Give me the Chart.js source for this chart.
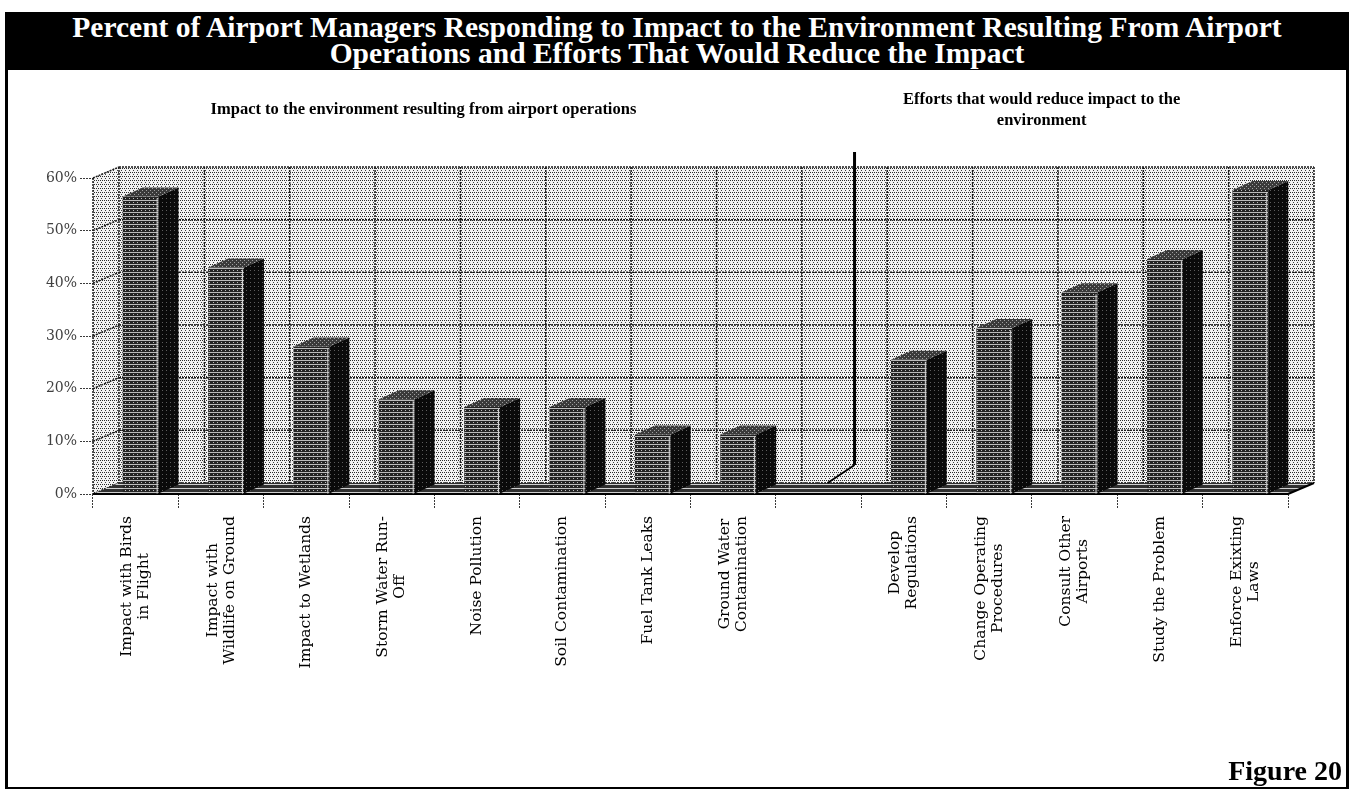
<!DOCTYPE html>
<html>
<head>
<meta charset="utf-8">
<title>Figure 20</title>
<script src="https://cdn.jsdelivr.net/npm/chart.js@4.4.0/dist/chart.umd.min.js"></script>
<style>
  body { margin: 0; background: #fff; width: 1353px; height: 791px; position: relative; overflow: hidden; }
  #frame { position: absolute; left: 5px; top: 12px; width: 1338px; height: 775px;
           border-left: 3px solid #000; border-right: 3px solid #000; border-bottom: 2px solid #000; }
  #title { position: absolute; left: 5px; top: 12px; width: 1344px; height: 58px; box-sizing: border-box;
           padding-top: 2px; background: #000; color: #fff; text-align: center;
           font: bold 29.5px "Liberation Serif", "Times New Roman", serif; line-height: 26px; }
  #chart { position: absolute; left: 8px; top: 72px; }
</style>
</head>
<body>
<div id="frame"></div>
<div id="title">Percent of Airport Managers Responding to Impact to the Environment Resulting From Airport<br>Operations and Efforts That Would Reduce the Impact</div>
<canvas id="chart" width="1338" height="715"></canvas>

<script>
// categories: first group = impacts, empty slot, second group = efforts
const categories = [
    ['Impact with Birds', 'in Flight'],
    ['Impact with', 'Wildlife on Ground'],
    ['Impact to Wetlands'],
    ['Storm Water Run-', 'Off'],
    ['Noise Pollution'],
    ['Soil Contamination'],
    ['Fuel Tank Leaks'],
    ['Ground Water', 'Contamination'],
    [''],
    ['Develop', 'Regulations'],
    ['Change Operating', 'Procedures'],
    ['Consult Other', 'Airports'],
    ['Study the Problem'],
    ['Enforce Exixting', 'Laws']
];

// percent of managers responding
const shares = [56.5, 43, 28, 18, 16.5, 16.5, 11.3, 11.3, null, 25.5, 31.5, 38.3, 44.6, 57.7];

const yTicks = [0, 10, 20, 30, 40, 50, 60];

const groupTitles = {
    impacts: ['Impact to the environment resulting from airport operations'],
    efforts: ['Efforts that would reduce impact to the', 'environment']
};

const canvas = document.getElementById('chart');
const ctx = canvas.getContext('2d');

// small halftone tiles
function makePattern(base, dots) {
    const tile = document.createElement('canvas');
    tile.width = tile.height = 4;
    const g = tile.getContext('2d');
    g.fillStyle = base;
    g.fillRect(0, 0, 4, 4);
    dots.forEach(function (d) {
        g.fillStyle = d[2];
        g.fillRect(d[0], d[1], 1, 1);
    });
    return ctx.createPattern(tile, 'repeat');
}

const wallFill = makePattern('#f2f2f2', [[0, 0, '#2a2a2a'], [2, 0, '#2a2a2a'], [1, 2, '#3a3a3a']]);
const frontFill = makePattern('#242424', [[0, 0, '#bdbdbd'], [1, 0, '#bdbdbd'], [2, 0, '#bdbdbd'], [3, 0, '#bdbdbd'], [0, 2, '#bdbdbd']]);
const sideFill = makePattern('#0a0a0a', [[2, 2, '#5c5c5c']]);
const topFill = makePattern('#3a3a3a', [[0, 0, '#a0a0a0'], [2, 2, '#a0a0a0']]);
const floorFill = makePattern('#303030', [[0, 0, '#d0d0d0'], [1, 0, '#d0d0d0'], [2, 0, '#d0d0d0'], [3, 0, '#d0d0d0']]);

// depth of the back wall and of each bar
const depthX = 26, depthY = -11;
const barDX = 20, barDY = -9;
const barShift = 5;

function line(c, x1, y1, x2, y2) {
    c.beginPath();
    c.moveTo(x1, y1);
    c.lineTo(x2, y2);
    c.stroke();
}

function poly(c, pts) {
    c.beginPath();
    c.moveTo(pts[0][0], pts[0][1]);
    for (let i = 1; i < pts.length; i++) c.lineTo(pts[i][0], pts[i][1]);
    c.closePath();
    c.fill();
}

const box3d = {
    id: 'box3d',
    beforeDatasetsDraw: function (chart) {
        const c = chart.ctx, a = chart.chartArea;
        const xs = chart.scales.x, ys = chart.scales.y;
        c.save();

        // left side wall and back wall
        c.fillStyle = wallFill;
        poly(c, [[a.left, a.bottom], [a.left, a.top], [a.left + depthX, a.top + depthY], [a.left + depthX, a.bottom + depthY]]);
        c.fillRect(a.left + depthX, a.top + depthY, a.width, a.height);

        // grid on the walls
        c.strokeStyle = '#1c1c1c';
        c.lineWidth = 1.5;
        c.setLineDash([2, 1]);
        ys.ticks.forEach(function (t) {
            const py = ys.getPixelForValue(t.value);
            line(c, a.left, py, a.left + depthX, py + depthY);
            line(c, a.left + depthX, py + depthY, a.right + depthX, py + depthY);
        });
        const slot = xs.getPixelForValue(1) - xs.getPixelForValue(0);
        for (let i = 0; i <= categories.length; i++) {
            const px = xs.getPixelForValue(0) - slot / 2 + i * slot + depthX;
            line(c, px, a.top + depthY, px, a.bottom + depthY);
        }
        line(c, a.left, a.top, a.left, a.bottom);

        // floor
        c.setLineDash([]);
        c.fillStyle = floorFill;
        poly(c, [[a.left, a.bottom], [a.right, a.bottom], [a.right + depthX, a.bottom + depthY], [a.left + depthX, a.bottom + depthY]]);
        c.strokeStyle = '#000';
        c.lineWidth = 2;
        line(c, a.left, a.bottom, a.right, a.bottom);
        line(c, a.right, a.bottom, a.right + depthX, a.bottom + depthY);

        // divider between the two groups
        const dx = xs.getPixelForValue(8) + depthX + barShift + 5;
        c.lineWidth = 3;
        line(c, dx, a.top + depthY - 15, dx, a.bottom + depthY - 18);
        c.lineWidth = 2;
        line(c, dx, a.bottom + depthY - 18, dx - 27, a.bottom + depthY);
        c.restore();
    },
    beforeDatasetDraw: function (chart) {
        chart.ctx.save();
        chart.ctx.translate(barShift, 0);
    },
    afterDatasetDraw: function (chart) {
        chart.ctx.restore();
    },
    afterDatasetsDraw: function (chart) {
        const c = chart.ctx;
        const meta = chart.getDatasetMeta(0);
        c.save();
        meta.data.forEach(function (el, i) {
            if (shares[i] == null) return;
            const p = el.getProps(['x', 'y', 'base', 'width'], true);
            const l = p.x - p.width / 2 + barShift, r = p.x + p.width / 2 + barShift;
            c.fillStyle = sideFill;
            poly(c, [[r, p.y], [r + barDX, p.y + barDY], [r + barDX, p.base + barDY], [r, p.base]]);
            c.fillStyle = topFill;
            poly(c, [[l, p.y], [l + barDX, p.y + barDY], [r + barDX, p.y + barDY], [r, p.y]]);
            c.strokeStyle = '#d8d8d8';
            c.lineWidth = 1;
            line(c, r - 1.5, p.y + 2, r - 1.5, p.base);
        });
        c.restore();
    },
    afterDraw: function (chart) {
        const c = chart.ctx, a = chart.chartArea, xs = chart.scales.x;
        c.save();
        c.fillStyle = '#000';

        // rotated category labels, lines centred on each other, block hung from the axis
        c.font = '15.5px "DejaVu Serif", serif';
        c.textAlign = 'center';
        c.textBaseline = 'middle';
        categories.forEach(function (lines, i) {
            if (!lines[0]) return;
            const w = Math.max.apply(null, lines.map(function (s) { return c.measureText(s).width; }));
            c.save();
            c.translate(xs.getPixelForValue(i), a.bottom + 22);
            c.rotate(-Math.PI / 2);
            lines.forEach(function (s, j) {
                c.fillText(s, -w / 2, (j - (lines.length - 1) / 2) * 17);
            });
            c.restore();
        });

        // group headings
        c.font = 'bold 16.5px "Liberation Serif", serif';
        const leftX = (xs.getPixelForValue(0) + xs.getPixelForValue(7)) / 2 - 11;
        c.fillText(groupTitles.impacts[0], leftX, 38);
        const rightX = (xs.getPixelForValue(9) + xs.getPixelForValue(13)) / 2 - 33;
        groupTitles.efforts.forEach(function (s, j) {
            c.fillText(s, rightX, 28 + j * 21);
        });

        // figure number
        c.font = 'bold 28px "Liberation Serif", serif';
        c.textAlign = 'right';
        c.textBaseline = 'alphabetic';
        c.fillText('Figure 20', 1334, 708);
        c.restore();
    }
};

new Chart(ctx, {
    type: 'bar',
    data: {
        labels: categories.map(function (l) { return l.join(' '); }),
        datasets: [{
            data: shares,
            backgroundColor: frontFill,
            borderWidth: 0,
            barPercentage: 0.42,
            categoryPercentage: 1
        }]
    },
    options: {
        responsive: false,
        animation: false,
        layout: { padding: { top: 106, right: 58, left: 0, bottom: 0 } },
        plugins: { legend: { display: false }, tooltip: { enabled: false } },
        scales: {
            x: {
                offset: true,
                grid: { display: true, offset: true, drawOnChartArea: false, drawTicks: true, tickLength: 14, color: '#3a3a3a', tickBorderDash: [2, 1] },
                border: { display: false },
                ticks: { display: false },
                afterFit: function (s) { s.height = 293; }
            },
            y: {
                min: 0,
                max: 60,
                afterBuildTicks: function (s) { s.ticks = yTicks.map(function (v) { return { value: v }; }); },
                ticks: {
                    callback: function (v) { return v + '%'; },
                    font: { family: '"DejaVu Serif", serif', size: 14 },
                    color: '#404040',
                    padding: 3
                },
                grid: { drawOnChartArea: false, tickLength: 13, color: '#3a3a3a', tickBorderDash: [2, 1] },
                border: { display: false },
                afterFit: function (s) { s.width = 85; }
            }
        }
    },
    plugins: [box3d]
});
</script>
</body>
</html>
